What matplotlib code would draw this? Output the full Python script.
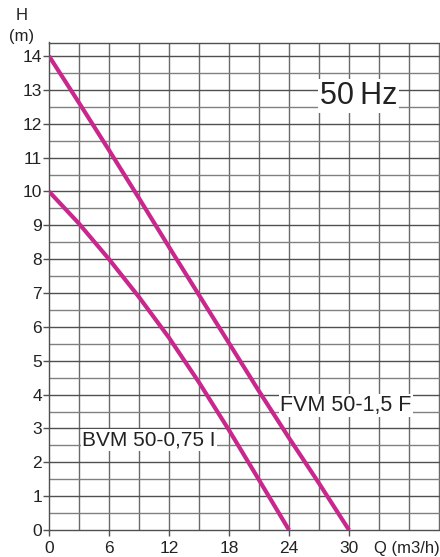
import matplotlib.pyplot as plt
import numpy as np

# pump curves (Q in m3/h, H in m)
q_fvm = [0, 3, 6, 9, 12, 15, 18, 21, 24, 27, 30]
h_fvm = [14.0, 12.62, 11.22, 9.8, 8.36, 6.94, 5.52, 4.1, 2.72, 1.38, 0.0]

q_bvm = [0, 3, 6, 9, 12, 15, 18, 21, 24]
h_bvm = [10.0, 9.05, 8.0, 6.88, 5.68, 4.36, 2.95, 1.48, 0.0]

x_ticks = [0, 6, 12, 18, 24, 30]
y_ticks = list(range(0, 15))

curve_color = '#c8288c'
plt.rcParams['font.family'] = ['Liberation Sans', 'DejaVu Sans']

fig = plt.figure(figsize=(4.4, 5.57), dpi=100)
ax = fig.add_axes([49 / 440, 27 / 557, 391 / 440, 487.5 / 557])
ax.set_xlim(0, 39.1)
ax.set_ylim(0, 14.4)

# grid: vertical every 3, horizontal every 0.5
for xv in np.arange(3, 39.1, 3):
    ax.axvline(xv, color='#6a6a6a', lw=1.0, zorder=1)
for yv in np.arange(0.5, 14.4, 0.5):
    c = '#505050' if yv % 1 == 0 else '#808080'
    ax.axhline(yv, color=c, lw=1.0, zorder=1)

ax.plot(q_fvm, h_fvm, color=curve_color, lw=3.0, solid_capstyle='butt', zorder=3)
ax.plot(q_bvm, h_bvm, color=curve_color, lw=3.0, solid_capstyle='butt', zorder=3)

for s in ['left', 'bottom', 'top']:
    ax.spines[s].set_color('#505050')
    ax.spines[s].set_linewidth(1.0)
ax.spines['right'].set_visible(False)

ax.set_xticks(x_ticks)
ax.set_yticks(y_ticks)
ax.tick_params(axis='both', length=4, width=1.0, color='#505050',
               labelsize=12.5, labelcolor='#222222')
ax.tick_params(axis='x', pad=4)
ax.tick_params(axis='y', pad=1)

# labels
fig.text(22 / 440, 1 - 16 / 557, 'H', ha='center', va='center', fontsize=12, color='#222222')
fig.text(22 / 440, 1 - 37 / 557, '(m)', ha='center', va='center', fontsize=12, color='#222222')
fig.text(407 / 440, 1 - 549 / 557, 'Q (m3/h)', ha='center', va='center', fontsize=12, color='#222222')

box = dict(facecolor='white', edgecolor='none', pad=1.0)
ax.text(27.1, 12.82, '50\u2009Hz', fontsize=22, ha='left', va='center',
        color='#222222', bbox=box, zorder=4)
ax.text(23.1, 3.68, 'FVM 50-1,5 F', fontsize=15.5, ha='left', va='center',
        color='#222222', bbox=box, zorder=4)
ax.text(3.3, 2.67, 'BVM 50-0,75 I', fontsize=15, ha='left', va='center',
        color='#222222', bbox=box, zorder=4)

fig.savefig('out.png', dpi=100, facecolor='white')
